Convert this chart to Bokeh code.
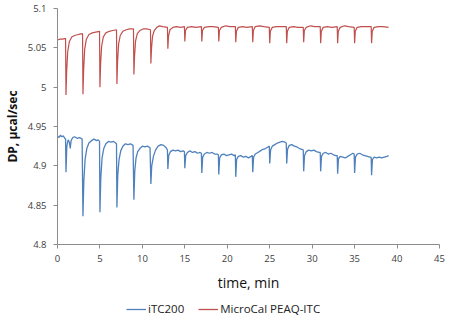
from bokeh.plotting import figure
from bokeh.layouts import column
from bokeh.models import Range1d, FixedTicker, CustomJSTickFormatter, Legend, LegendItem
from bokeh.embed import file_html
from bokeh.resources import INLINE

# ---- data ----
itc200_t = [0.0, 0.2, 0.35, 0.5, 0.7, 0.85, 0.95, 1.0, 1.1, 1.25, 1.4, 1.5, 1.6, 1.8, 2.0, 2.3, 2.6, 2.9,
            3.0, 3.1, 3.25, 3.45, 3.7, 4.0, 4.3, 4.6, 4.8, 4.95,
            5.0, 5.1, 5.25, 5.45, 5.7, 6.0, 6.3, 6.6, 6.85, 6.95,
            7.0, 7.1, 7.25, 7.45, 7.7, 8.0, 8.3, 8.6, 8.9,
            9.0, 9.1, 9.25, 9.45, 9.7, 10.0, 10.3, 10.6, 10.9,
            11.0, 11.1, 11.3, 11.55, 11.85, 12.2, 12.5, 12.8, 12.95,
            13.0, 13.1, 13.3, 13.6, 13.9, 14.2, 14.5, 14.8, 14.95,
            15.0, 15.1, 15.3, 15.6, 15.9, 16.2, 16.5, 16.8, 16.95,
            17.0, 17.1, 17.3, 17.6, 17.9, 18.2, 18.5, 18.8, 18.95,
            19.0, 19.1, 19.3, 19.6, 19.9, 20.2, 20.5, 20.8, 20.95,
            21.0, 21.1, 21.3, 21.6, 21.9, 22.2, 22.5, 22.8, 22.95,
            23.0, 23.1, 23.3, 23.6, 23.9, 24.2, 24.5, 24.8, 24.95,
            25.0, 25.1, 25.3, 25.6, 25.9, 26.2, 26.5, 26.8, 26.95,
            27.0, 27.1, 27.3, 27.6, 27.9, 28.2, 28.5, 28.8, 28.95,
            29.0, 29.1, 29.3, 29.6, 29.9, 30.2, 30.5, 30.8, 30.95,
            31.0, 31.1, 31.3, 31.6, 31.9, 32.2, 32.5, 32.8, 32.95,
            33.0, 33.1, 33.3, 33.6, 33.9, 34.2, 34.5, 34.8, 34.95,
            35.0, 35.1, 35.3, 35.6, 35.9, 36.2, 36.5, 36.8, 36.95,
            37.0, 37.1, 37.3, 37.6, 37.9, 38.2, 38.5, 38.8, 39.0]
itc200_dp = [4.938, 4.936, 4.939, 4.937, 4.938, 4.935, 4.934, 4.892, 4.925, 4.933, 4.930, 4.922, 4.932, 4.936, 4.937, 4.935, 4.936, 4.934,
             4.836, 4.880, 4.908, 4.922, 4.929, 4.932, 4.934, 4.932, 4.933, 4.931,
             4.841, 4.885, 4.910, 4.922, 4.928, 4.931, 4.930, 4.931, 4.929, 4.928,
             4.847, 4.888, 4.908, 4.919, 4.925, 4.928, 4.927, 4.928, 4.926,
             4.857, 4.893, 4.910, 4.918, 4.922, 4.925, 4.924, 4.925, 4.923,
             4.877, 4.900, 4.912, 4.920, 4.925, 4.927, 4.926, 4.923, 4.920,
             4.896, 4.913, 4.918, 4.920, 4.919, 4.920, 4.918, 4.919, 4.918,
             4.897, 4.913, 4.917, 4.919, 4.917, 4.918, 4.916, 4.917, 4.916,
             4.891, 4.911, 4.915, 4.917, 4.916, 4.917, 4.915, 4.915, 4.914,
             4.889, 4.910, 4.914, 4.915, 4.913, 4.914, 4.915, 4.913, 4.914,
             4.886, 4.908, 4.912, 4.913, 4.911, 4.912, 4.910, 4.912, 4.913,
             4.892, 4.911, 4.915, 4.917, 4.919, 4.921, 4.922, 4.924, 4.925,
             4.903, 4.920, 4.925, 4.927, 4.929, 4.930, 4.931, 4.930, 4.929,
             4.903, 4.921, 4.926, 4.927, 4.925, 4.924, 4.922, 4.921, 4.920,
             4.893, 4.913, 4.918, 4.920, 4.919, 4.920, 4.918, 4.917, 4.917,
             4.893, 4.912, 4.916, 4.917, 4.915, 4.916, 4.914, 4.913, 4.913,
             4.890, 4.909, 4.912, 4.911, 4.910, 4.912, 4.914, 4.916, 4.915,
             4.891, 4.911, 4.915, 4.916, 4.914, 4.913, 4.912, 4.911, 4.911,
             4.888, 4.908, 4.911, 4.910, 4.911, 4.910, 4.911, 4.912, 4.913]

peaq_t = [0.0, 0.3, 0.6, 0.95,
          1.0, 1.08, 1.2, 1.4, 1.7, 2.1, 2.5, 2.95,
          3.0, 3.08, 3.2, 3.4, 3.7, 4.1, 4.5, 4.95,
          5.0, 5.08, 5.2, 5.4, 5.7, 6.1, 6.5, 6.95,
          7.0, 7.08, 7.2, 7.4, 7.7, 8.1, 8.5, 8.95,
          9.0, 9.08, 9.2, 9.4, 9.7, 10.1, 10.5, 10.95,
          11.0, 11.08, 11.2, 11.4, 11.7, 12.0, 12.4, 12.95,
          13.0, 13.08, 13.25, 13.6, 14.0, 14.5, 14.95,
          15.0, 15.08, 15.3, 15.8, 16.3, 16.95,
          17.0, 17.08, 17.3, 17.8, 18.3, 18.95,
          19.0, 19.08, 19.3, 19.8, 20.3, 20.95,
          21.0, 21.08, 21.3, 21.8, 22.3, 22.95,
          23.0, 23.08, 23.3, 23.8, 24.3, 24.95,
          25.0, 25.08, 25.3, 25.8, 26.3, 26.95,
          27.0, 27.08, 27.3, 27.8, 28.3, 28.95,
          29.0, 29.08, 29.3, 29.8, 30.3, 30.95,
          31.0, 31.08, 31.3, 31.8, 32.3, 32.95,
          33.0, 33.08, 33.3, 33.8, 34.3, 34.95,
          35.0, 35.08, 35.3, 35.8, 36.3, 36.95,
          37.0, 37.08, 37.3, 37.8, 38.3, 39.0]
peaq_dp = [5.060, 5.061, 5.061, 5.062,
           4.990, 5.020, 5.045, 5.058, 5.064, 5.066, 5.067, 5.068,
           4.991, 5.022, 5.048, 5.061, 5.067, 5.069, 5.070, 5.071,
           5.000, 5.030, 5.052, 5.064, 5.069, 5.071, 5.072, 5.073,
           5.004, 5.033, 5.055, 5.066, 5.071, 5.073, 5.074, 5.074,
           5.016, 5.040, 5.059, 5.068, 5.072, 5.074, 5.074, 5.073,
           5.030, 5.050, 5.065, 5.072, 5.076, 5.078, 5.077, 5.076,
           5.049, 5.065, 5.073, 5.076, 5.077, 5.076, 5.077,
           5.058, 5.072, 5.076, 5.077, 5.076, 5.077,
           5.058, 5.072, 5.076, 5.077, 5.077, 5.076,
           5.058, 5.072, 5.076, 5.078, 5.077, 5.077,
           5.057, 5.071, 5.076, 5.077, 5.076, 5.077,
           5.057, 5.072, 5.077, 5.078, 5.077, 5.076,
           5.056, 5.071, 5.076, 5.077, 5.077, 5.077,
           5.056, 5.071, 5.076, 5.077, 5.076, 5.076,
           5.057, 5.072, 5.076, 5.078, 5.077, 5.077,
           5.056, 5.071, 5.076, 5.077, 5.076, 5.077,
           5.056, 5.071, 5.076, 5.078, 5.077, 5.076,
           5.056, 5.071, 5.076, 5.077, 5.077, 5.077,
           5.056, 5.071, 5.076, 5.077, 5.077, 5.076]

x_ticks = [0, 5, 10, 15, 20, 25, 30, 35, 40, 45]
y_ticks = [4.8, 4.85, 4.9, 4.95, 5.0, 5.05, 5.1]
series_names = ["iTC200", "MicroCal PEAQ-ITC"]
series_colors = ["#4F81BD", "#C0504D"]

FONT = "Open Sans"

p = figure(width=450, height=294, output_backend="svg", toolbar_location=None,
           x_range=Range1d(0, 45), y_range=Range1d(4.8, 5.1),
           min_border_left=51, min_border_right=11, min_border_top=8, min_border_bottom=50)
p.outline_line_color = None
p.grid.grid_line_color = None

p.line(itc200_t, itc200_dp, line_color=series_colors[0], line_width=1.3)
p.line(peaq_t, peaq_dp, line_color=series_colors[1], line_width=1.2)

for ax in (p.xaxis[0], p.yaxis[0]):
    ax.axis_line_color = "#8c8c8c"
    ax.major_tick_line_color = "#8c8c8c"
    ax.major_tick_in = 0
    ax.major_tick_out = 4
    ax.minor_tick_line_color = None
    ax.major_label_text_font = FONT
    ax.major_label_text_font_size = "9.5px"
    ax.major_label_text_color = "#404040"
    ax.axis_label_text_font = FONT
    ax.axis_label_text_color = "#111111"

p.xaxis.ticker = FixedTicker(ticks=x_ticks)
p.yaxis.ticker = FixedTicker(ticks=y_ticks)
p.yaxis.formatter = CustomJSTickFormatter(code="return String(Math.round(tick*100)/100);")
p.xaxis.major_label_standoff = 6
p.yaxis.major_label_standoff = 7

p.xaxis.axis_label = "time, min"
p.xaxis.axis_label_text_font_size = "14px"
p.xaxis.axis_label_text_font_style = "normal"
p.xaxis.axis_label_standoff = 8

p.yaxis.axis_label = "DP, µcal/sec"
p.yaxis.axis_label_text_font_size = "12px"
p.yaxis.axis_label_text_font_style = "bold"
p.yaxis.axis_label_standoff = 4

# ---- legend strip below the chart (its frame is aligned with the chart's frame) ----
lg = figure(width=450, height=30, output_backend="svg", toolbar_location=None,
            x_axis_type=None, y_axis_type=None,
            x_range=Range1d(10, 11), y_range=Range1d(10, 11),
            min_border=0, min_border_left=0, min_border_right=0, min_border_top=0, min_border_bottom=0)
lg.outline_line_color = None
lg.grid.grid_line_color = None
r1 = lg.line(x=[0, 1], y=[0, 0], line_color=series_colors[0], line_width=1.3)
r2 = lg.line(x=[0, 1], y=[0, 0], line_color=series_colors[1], line_width=1.3)
legend = Legend(items=[LegendItem(label=series_names[0], renderers=[r1]),
                       LegendItem(label=series_names[1], renderers=[r2])],
                orientation="horizontal", location=(69, 8),
                border_line_color=None, background_fill_alpha=0,
                label_text_font=FONT, label_text_font_size="11.5px", label_text_color="#222222",
                glyph_width=20, glyph_height=14, label_height=14,
                label_standoff=2, spacing=14, padding=0, margin=0)
lg.add_layout(legend)

layout = column(p, lg, spacing=0)
open("out.html", "w").write(file_html(layout, INLINE))
